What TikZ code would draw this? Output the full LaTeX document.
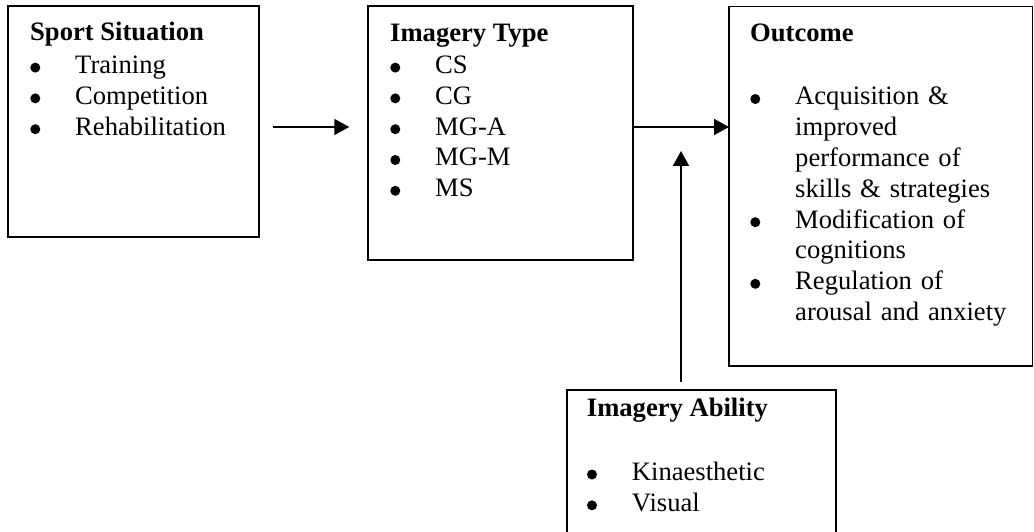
\documentclass[tikz,border=0pt]{standalone}
\usepackage{fontspec}
\setmainfont{Liberation Serif}
\usetikzlibrary{arrows.meta,calc}
\newcommand\bl{\hspace*{45pt}}
\newcommand\ind{\hspace*{45pt}}
\begin{document}
\begin{tikzpicture}[x=1pt,y=-1pt,
  box/.style={draw, line width=1.7pt, rectangle, inner sep=0pt, outer sep=0pt, anchor=north west},
  ttl/.style={anchor=base west, inner sep=0pt, font=\fontsize{26.6}{30.8}\selectfont\bfseries},
  lst/.style={anchor=base west, inner sep=0pt, text width=300pt, align=left, font=\fontsize{26.6}{30.8}\selectfont},
  arr/.style={line width=1.7pt, -{Triangle[length=15pt,width=16pt]}},
  dot/.style={fill=black}]
\useasboundingbox (0,0) rectangle (1034,532);
% boxes
\node[box, minimum width=250.4pt, minimum height=230.7pt] (b1) at (8.3,6) {};
\node[box, minimum width=265pt, minimum height=254pt] (b2) at (368.3,6) {};
\node[box, minimum width=303.5pt, minimum height=359.5pt] (b3) at (729,6.5) {};
\node[box, minimum width=269.3pt, minimum height=155pt] (b4) at (566.7,390) {};
% titles
\node[ttl] (t1) at (30,41) {Sport Situation};
\node[ttl] (t2) at (390,41.7) {Imagery Type};
\node[ttl] (t3) at (750,41.7) {Outcome};
\node[ttl] (t4) at (586.7,416) {Imagery Ability};
% lists
\node[lst] (l1) at (30,73.6) {\bl Training\\ \bl Competition\\ \bl Rehabilitation};
\node[lst] (l2) at (390,73.6) {\bl CS\\ \bl CG\\ \bl MG-A\\ \bl MG-M\\ \bl MS};
\node[lst] (l3) at (750,105) {\bl Acquisition \&\\ \ind improved\\ \ind performance of\\ \ind skills \& strategies\\ \bl Modification of\\ \ind cognitions\\ \bl Regulation of\\ \ind arousal and anxiety};
\node[lst] (l4) at (586.7,480.5) {\bl Kinaesthetic\\ \bl Visual};
% bullets
\foreach \k in {0,1,2} \fill[dot] ($(l1.base west)+(5.3,\k*30.8-6)$) circle[radius=5];
\foreach \k in {0,...,4} \fill[dot] ($(l2.base west)+(5.3,\k*30.8-6)$) circle[radius=5];
\foreach \k in {0,4,6} \fill[dot] ($(l3.base west)+(5.3,\k*30.8-6)$) circle[radius=5];
\foreach \k in {0,1} \fill[dot] ($(l4.base west)+(5.3,\k*30.8-6)$) circle[radius=5];
% connectors
\coordinate (a1s) at (272.7,127);
\coordinate (a1e) at (349.3,127);
\draw[arr] (a1s) -- (a1e);
\draw[arr] (a1s -| b2.east) -- (a1s -| b3.west);
\coordinate (a3s) at (681,381.7);
\coordinate (a3e) at (681,151);
\draw[arr] (a3s) -- (a3e);
\end{tikzpicture}
\end{document}
